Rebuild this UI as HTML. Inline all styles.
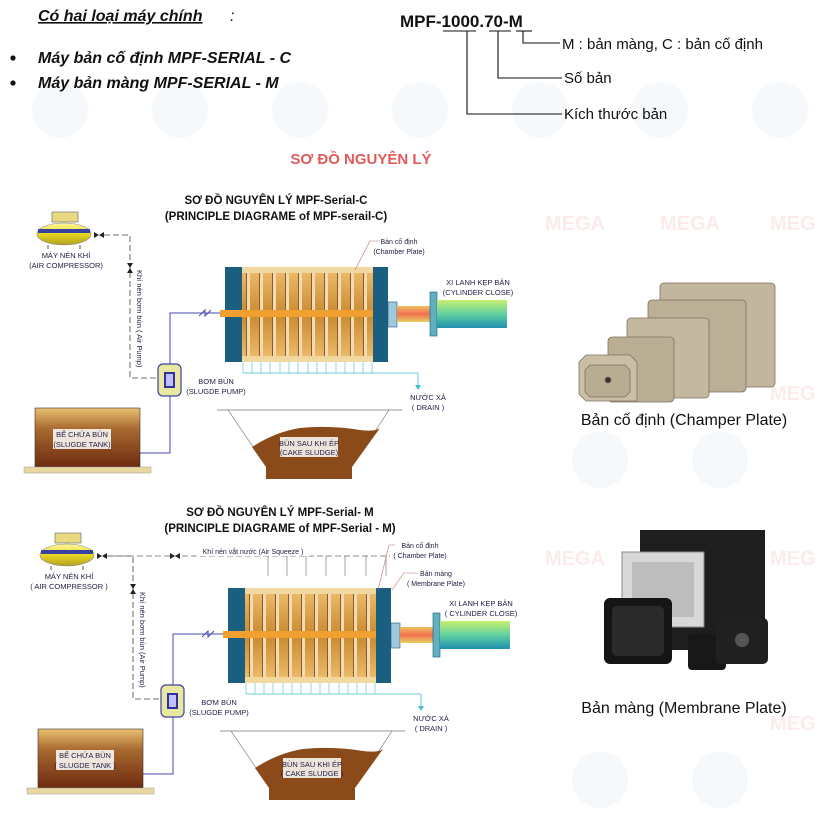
<!DOCTYPE html>
<html><head><meta charset="utf-8"><style>
html,body{margin:0;padding:0;background:#fff}
svg{display:block}
text{font-family:"Liberation Sans",Arial,sans-serif}
</style></head><body>
<svg width="821" height="814" viewBox="0 0 821 814" xmlns="http://www.w3.org/2000/svg">
<defs>
<linearGradient id="tank" x1="0" y1="0" x2="0" y2="1"><stop offset="0" stop-color="#e8c070"/><stop offset="0.35" stop-color="#a86a30"/><stop offset="1" stop-color="#6e2a10"/></linearGradient>
<linearGradient id="comp" x1="0" y1="0" x2="0" y2="1"><stop offset="0" stop-color="#fff8a0"/><stop offset="0.5" stop-color="#e8d820"/><stop offset="1" stop-color="#b0a020"/></linearGradient>
<linearGradient id="cyl" x1="0" y1="0" x2="0" y2="1"><stop offset="0" stop-color="#c8f070"/><stop offset="0.5" stop-color="#60d0a0"/><stop offset="1" stop-color="#2090b0"/></linearGradient>
<linearGradient id="rod" x1="0" y1="0" x2="0" y2="1"><stop offset="0" stop-color="#f0c060"/><stop offset="0.5" stop-color="#f07050"/><stop offset="1" stop-color="#e8d060"/></linearGradient>
<linearGradient id="plates" x1="0" y1="0" x2="0" y2="1"><stop offset="0" stop-color="#f0c070"/><stop offset="0.5" stop-color="#c88a30"/><stop offset="1" stop-color="#f0c070"/></linearGradient>
<pattern id="pl" width="13" height="100" patternUnits="userSpaceOnUse" x="242"><rect width="13" height="100" fill="none"/><rect x="5" y="0" width="3" height="100" fill="#f5d9b0"/><rect x="4" y="0" width="1" height="100" fill="#8a5a30"/></pattern>
<g id="diag">
 <rect x="52" y="212" width="26" height="10" fill="#e8d880" stroke="#777" stroke-width="0.7"/>
 <ellipse cx="64" cy="234" rx="27" ry="11" fill="url(#comp)" stroke="#888" stroke-width="0.6"/>
 <rect x="38" y="229" width="52" height="4" fill="#3840a0"/>
 <line x1="48" y1="245" x2="48" y2="249" stroke="#555"/><line x1="80" y1="245" x2="80" y2="249" stroke="#555"/>
 <text x="66" y="258" font-size="7.5" text-anchor="middle" fill="#224">MÁY NÉN KHÍ</text>
 <polygon points="94,232 94,238 99,235" fill="#222"/><polygon points="104,232 104,238 99,235" fill="#222"/>
 <polyline points="104,235 130,235 130,378 157,378" fill="none" stroke="#444" stroke-width="0.8" stroke-dasharray="6,3"/>
 <polygon points="127,263 133,263 130,268" fill="#222"/><polygon points="127,273 133,273 130,268" fill="#222"/>
 <rect x="158" y="364" width="23" height="32" rx="5" fill="#e8e8a0" stroke="#4040a0" stroke-width="1.2"/>
 <rect x="164" y="372" width="11" height="16" fill="#3030a0"/>
 <rect x="166" y="374" width="7" height="12" fill="#c0c0ff"/>
 <text x="216" y="384" font-size="7.5" text-anchor="middle" fill="#224">BƠM BÙN</text>
 <text x="216" y="394" font-size="7.5" text-anchor="middle" fill="#224">(SLUGDE PUMP)</text>
 <polyline points="140,453 170,453 170,396" fill="none" stroke="#4848b0" stroke-width="1"/>
 <polyline points="170,364 170,313 220,313" fill="none" stroke="#4848b0" stroke-width="1"/>
 <polyline points="199,316 205,310 205,316 211,310" fill="none" stroke="#4848b0" stroke-width="1"/>
 <rect x="35" y="408" width="105" height="59" fill="url(#tank)" stroke="#333" stroke-width="0.6"/>
 <rect x="24" y="467" width="127" height="6" fill="#e8d8a0" stroke="#999" stroke-width="0.5"/>
 <rect x="53" y="429" width="58" height="20" fill="#fff" opacity="0.85"/>
 <text x="82" y="437" font-size="7.5" text-anchor="middle" fill="#224">BỂ CHỨA BÙN</text>
 <rect x="242" y="267" width="131" height="95" fill="url(#plates)"/>
 <rect x="242" y="267" width="131" height="95" fill="url(#pl)"/>
 <rect x="242" y="267" width="131" height="6" fill="#f0d8a0"/>
 <rect x="242" y="356" width="131" height="6" fill="#f0d8a0"/>
 <rect x="225" y="267" width="17" height="95" fill="#1a5e80"/>
 <rect x="373" y="267" width="15" height="95" fill="#1a5e80"/>
 <rect x="220" y="310" width="153" height="7" fill="#f0a030"/>
 <line x1="243" y1="373" x2="418" y2="373" stroke="#40c0d0" stroke-width="0.8"/>
 <g stroke="#40c0d0" stroke-width="0.6">
 <line x1="243" y1="362" x2="243" y2="373"/><line x1="252" y1="362" x2="252" y2="373"/><line x1="261" y1="362" x2="261" y2="373"/><line x1="270" y1="362" x2="270" y2="373"/><line x1="280" y1="362" x2="280" y2="373"/><line x1="289" y1="362" x2="289" y2="373"/><line x1="298" y1="362" x2="298" y2="373"/><line x1="308" y1="362" x2="308" y2="373"/><line x1="317" y1="362" x2="317" y2="373"/><line x1="326" y1="362" x2="326" y2="373"/><line x1="336" y1="362" x2="336" y2="373"/><line x1="345" y1="362" x2="345" y2="373"/><line x1="354" y1="362" x2="354" y2="373"/><line x1="363" y1="362" x2="363" y2="373"/><line x1="372" y1="362" x2="372" y2="373"/>
 </g>
 <line x1="418" y1="373" x2="418" y2="386" stroke="#40c0d0" stroke-width="0.8"/>
 <polygon points="415,385 421,385 418,390" fill="#40c0d0"/>
 <text x="428" y="400" font-size="7.5" text-anchor="middle" fill="#224">NƯỚC XẢ</text>
 <text x="428" y="410" font-size="7.5" text-anchor="middle" fill="#224">( DRAIN )</text>
 <rect x="388" y="302" width="9" height="25" fill="#a0c8d8" stroke="#1a5e80" stroke-width="0.6"/>
 <rect x="397" y="306" width="33" height="16" fill="url(#rod)"/>
 <rect x="430" y="292" width="7" height="44" fill="#60b0c0" stroke="#1a5e80" stroke-width="0.6"/>
 <rect x="437" y="300" width="70" height="28" fill="url(#cyl)"/>
 <line x1="217" y1="410" x2="402" y2="410" stroke="#999" stroke-width="1"/>
 <line x1="228" y1="410" x2="266" y2="466" stroke="#888" stroke-width="0.7"/>
 <line x1="389" y1="410" x2="352" y2="466" stroke="#888" stroke-width="0.7"/>
 <path d="M252,447 Q275,432 300,428 Q330,425 360,430 Q375,432 380,428 L352,467 L266,467 Z" fill="#8a4a1a"/>
 <rect x="266" y="467" width="86" height="12" fill="#8a4a1a"/>
 <rect x="280" y="437" width="58" height="20" fill="#fff" opacity="0.85"/>
</g>
</defs>

<g opacity="0.06" fill="#6aa0d0">
<circle cx="60" cy="110" r="28"/><circle cx="180" cy="110" r="28"/><circle cx="300" cy="110" r="28"/><circle cx="420" cy="110" r="28"/><circle cx="540" cy="110" r="28"/><circle cx="660" cy="110" r="28"/><circle cx="780" cy="110" r="28"/>
<circle cx="600" cy="460" r="28"/><circle cx="720" cy="460" r="28"/><circle cx="600" cy="780" r="28"/><circle cx="720" cy="780" r="28"/>
</g>
<g opacity="0.12" fill="#e06060" font-size="20" font-weight="bold">
<text x="545" y="230">MEGA</text><text x="660" y="230">MEGA</text><text x="770" y="230">MEG</text>
<text x="545" y="565">MEGA</text><text x="660" y="565">MEGA</text><text x="770" y="565">MEG</text>
<text x="770" y="400">MEG</text><text x="770" y="730">MEG</text>
</g>

<text x="38" y="21" font-size="16" font-weight="bold" font-style="italic" fill="#111" text-decoration="underline">Có hai loại máy chính</text>
<text x="230" y="21" font-size="16" font-style="italic" fill="#111">:</text>
<circle cx="13" cy="58" r="2.6" fill="#111"/>
<text x="38" y="63" font-size="16" font-weight="bold" font-style="italic" fill="#111">Máy bản cố định MPF-SERIAL - C</text>
<circle cx="13" cy="83" r="2.6" fill="#111"/>
<text x="38" y="88" font-size="16" font-weight="bold" font-style="italic" fill="#111">Máy bản màng  MPF-SERIAL - M</text>

<text x="400" y="27" font-size="17" font-weight="bold" fill="#111">MPF-1000.70-M</text>
<g stroke="#111" stroke-width="1.1" fill="none">
<line x1="443" y1="31" x2="476" y2="31"/><line x1="489" y1="31" x2="511" y2="31"/><line x1="516" y1="31" x2="532" y2="31"/>
<polyline points="467,31 467,114 562,114"/>
<polyline points="498,31 498,78 562,78"/>
<polyline points="523,31 523,43 560,43"/>
</g>
<text x="562" y="49" font-size="15" fill="#111">M : bản màng, C : bản cố định</text>
<text x="564" y="83" font-size="15" fill="#111">Số bản</text>
<text x="564" y="119" font-size="15" fill="#111">Kích thước bản</text>

<text x="361" y="164" font-size="15" font-weight="bold" fill="#e05a5a" text-anchor="middle">SƠ ĐỒ NGUYÊN LÝ</text>

<text x="276" y="204" font-size="11.5" font-weight="bold" text-anchor="middle" fill="#111">SƠ ĐỒ NGUYÊN LÝ MPF-Serial-C</text>
<text x="276" y="220" font-size="11.5" font-weight="bold" text-anchor="middle" fill="#111">(PRINCIPLE DIAGRAME of MPF-serail-C)</text>
<use href="#diag"/>
<text x="66" y="268" font-size="7.5" text-anchor="middle" fill="#224">(AIR COMPRESSOR)</text>
<text x="137" y="270" font-size="7.5" fill="#224" transform="rotate(90 137 270)">Khí nén bơm bùn ( Air Pump)</text>
<text x="82" y="447" font-size="7.5" text-anchor="middle" fill="#224">(SLUGDE TANK)</text>
<text x="309" y="446" font-size="7.5" text-anchor="middle" fill="#224">BÙN SAU KHI ÉP</text>
<text x="309" y="455" font-size="7.5" text-anchor="middle" fill="#224">(CAKE SLUDGE)</text>
<text x="478" y="285" font-size="7.5" text-anchor="middle" fill="#224">XI LANH KẸP BẢN</text>
<text x="478" y="295" font-size="7.5" text-anchor="middle" fill="#224">(CYLINDER CLOSE)</text>
<polyline points="380,241 370,241 355,270" fill="none" stroke="#c07070" stroke-width="0.6"/>
<text x="399" y="244" font-size="7" text-anchor="middle" fill="#224">Bản cố định</text>
<text x="399" y="254" font-size="7" text-anchor="middle" fill="#224">(Chamber Plate)</text>

<text x="280" y="516" font-size="11.5" font-weight="bold" text-anchor="middle" fill="#111">SƠ ĐỒ NGUYÊN LÝ MPF-Serial- M</text>
<text x="280" y="532" font-size="11.5" font-weight="bold" text-anchor="middle" fill="#111">(PRINCIPLE DIAGRAME of MPF-Serial - M)</text>
<g transform="translate(3,321)"><use href="#diag"/></g>
<text x="69" y="589" font-size="7.5" text-anchor="middle" fill="#224">( AIR COMPRESSOR )</text>
<text x="140" y="592" font-size="7.5" fill="#224" transform="rotate(90 140 592)">Khí nén bơm bùn (Air Pump)</text>
<text x="85" y="768" font-size="7.5" text-anchor="middle" fill="#224">( SLUGDE TANK )</text>
<text x="312" y="767" font-size="7.5" text-anchor="middle" fill="#224">BÙN SAU KHI ÉP</text>
<text x="312" y="776" font-size="7.5" text-anchor="middle" fill="#224">( CAKE SLUDGE )</text>
<text x="481" y="606" font-size="7.5" text-anchor="middle" fill="#224">XI LANH KẸP BẢN</text>
<text x="481" y="616" font-size="7.5" text-anchor="middle" fill="#224">( CYLINDER CLOSE)</text>
<polyline points="110,556 390,556" fill="none" stroke="#666" stroke-width="0.7" stroke-dasharray="6,3"/>
<g stroke="#666" stroke-width="0.6">
<line x1="268" y1="556" x2="268" y2="576"/><line x1="287" y1="556" x2="287" y2="576"/><line x1="306" y1="556" x2="306" y2="576"/><line x1="326" y1="556" x2="326" y2="576"/><line x1="345" y1="556" x2="345" y2="576"/><line x1="366" y1="556" x2="366" y2="576"/><line x1="386" y1="556" x2="386" y2="576"/>
</g>
<polygon points="170,553 170,559 175,556" fill="#222"/><polygon points="180,553 180,559 175,556" fill="#222"/>
<rect x="196" y="546" width="114" height="10" fill="#fff"/>
<text x="253" y="554" font-size="7" text-anchor="middle" fill="#224">Khí nén vắt nước (Air Squeeze )</text>
<polyline points="395,545 389,545 378,590" fill="none" stroke="#c07070" stroke-width="0.6"/>
<text x="420" y="548" font-size="7" text-anchor="middle" fill="#224">Bản cố định</text>
<text x="420" y="558" font-size="7" text-anchor="middle" fill="#224">( Chamber Plate)</text>
<polyline points="418,573 404,573 392,590" fill="none" stroke="#c07070" stroke-width="0.6"/>
<text x="436" y="576" font-size="7" text-anchor="middle" fill="#224">Bản màng</text>
<text x="436" y="586" font-size="7" text-anchor="middle" fill="#224">( Membrane Plate)</text>

<g stroke="#7e7260" stroke-width="0.8">
<rect x="660" y="283" width="115" height="104" rx="4" fill="#c2b79e"/>
<rect x="648" y="300" width="98" height="92" rx="4" fill="#bbaf96"/>
<rect x="627" y="318" width="82" height="80" rx="4" fill="#c4b9a0"/>
<rect x="608" y="337" width="66" height="65" rx="4" fill="#baae94"/>
<polygon points="586,355 630,355 637,362 637,401 586,401 579,394 579,362" fill="#cabfa6"/>
<polygon points="590,365 625,365 630,370 630,392 625,397 590,397 585,392 585,370" fill="#b8ac92"/>
<circle cx="608" cy="380" r="3" fill="#333"/>
</g>
<text x="684" y="425" font-size="16" text-anchor="middle" fill="#111">Bản cố định (Champer Plate)</text>

<g>
<rect x="640" y="530" width="125" height="120" fill="#1e1e1e"/>
<rect x="622" y="552" width="82" height="75" fill="#d8d8d8" stroke="#888"/>
<rect x="632" y="562" width="62" height="55" fill="#bdbdbd"/>
<rect x="604" y="598" width="68" height="66" rx="6" fill="#151515"/>
<rect x="612" y="606" width="52" height="50" rx="5" fill="#2a2a2a"/>
<rect x="688" y="634" width="38" height="36" rx="4" fill="#181818"/>
<rect x="716" y="618" width="52" height="46" rx="5" fill="#202020"/>
<circle cx="742" cy="640" r="7" fill="#555"/>
</g>
<text x="684" y="713" font-size="16" text-anchor="middle" fill="#111">Bản màng (Membrane Plate)</text>
</svg>
</body></html>
